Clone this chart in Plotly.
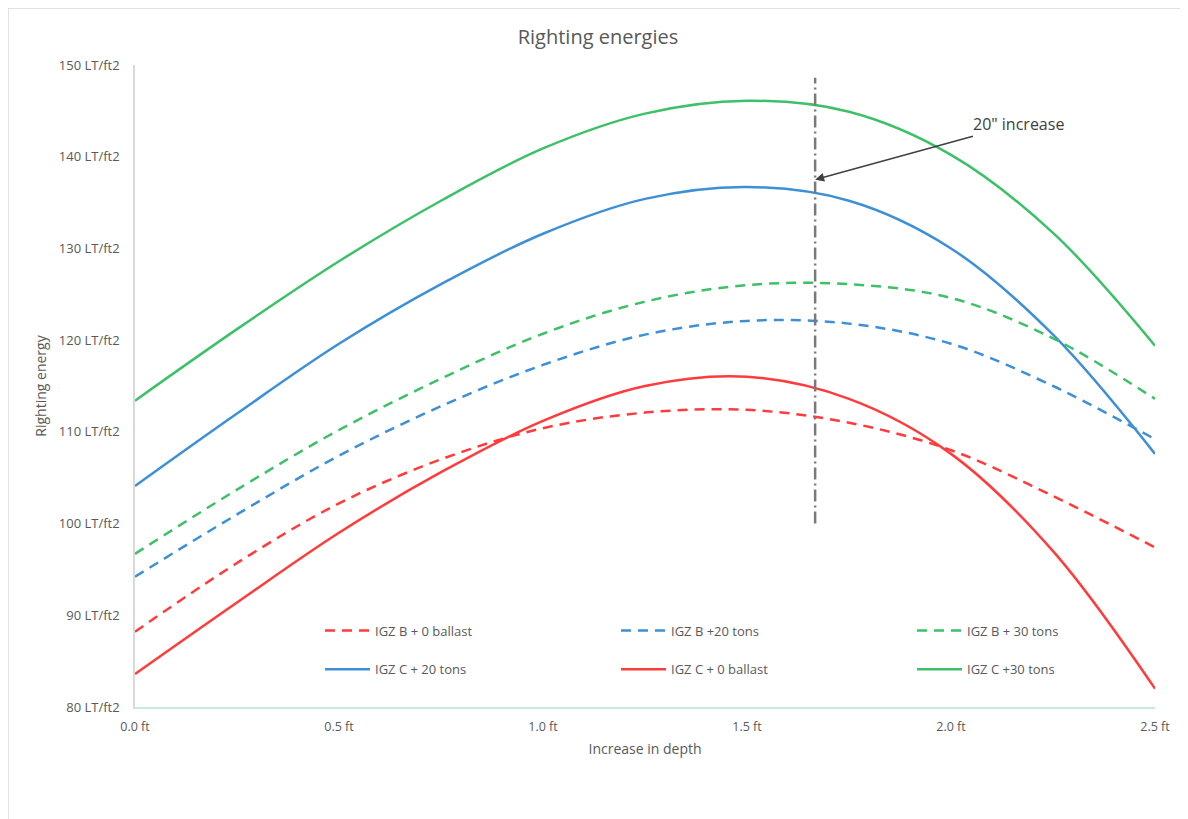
import plotly.graph_objects as go

depth_ft = [0.0, 0.25, 0.5, 0.75, 1.0, 1.25, 1.5, 1.75, 2.0, 2.25, 2.5]

igz_b_0 = [88.2, 95.7, 102.2, 107.0, 110.4, 112.1, 112.4, 111.0, 108.0, 103.0, 97.4]
igz_b_20 = [94.2, 101.0, 107.4, 112.8, 117.3, 120.6, 122.1, 121.8, 119.6, 115.0, 109.2]
igz_b_30 = [96.7, 103.7, 110.2, 115.8, 120.7, 124.2, 126.0, 126.1, 124.6, 120.2, 113.6]
igz_c_20 = [104.1, 112.0, 119.6, 126.1, 131.6, 135.4, 136.7, 135.2, 130.0, 120.6, 107.6]
igz_c_0 = [83.6, 91.4, 99.0, 105.6, 111.2, 115.0, 116.0, 113.6, 107.6, 97.0, 82.0]
igz_c_30 = [113.4, 121.2, 128.6, 135.2, 140.9, 144.7, 146.1, 144.9, 140.2, 131.7, 119.4]

marker_x = [1.667, 1.667]
marker_y = [100.0, 148.6]

x_ticks = [0.0, 0.5, 1.0, 1.5, 2.0, 2.5]
x_ticktext = ["0.0 ft", "0.5 ft", "1.0 ft", "1.5 ft", "2.0 ft", "2.5 ft"]
y_ticks = [80, 90, 100, 110, 120, 130, 140, 150]
y_ticktext = [f"{v} LT/ft2" for v in y_ticks]

RED = "#ff3b3b"
BLUE = "#3d8fd6"
GREEN = "#3cc068"
TXT = "#595959"
FONT = "Open Sans"
DASH = "10px,7px"

# page offset (browser body margin)
OFF = 8
W, H = 1188 - OFF, 819 - OFF
L, T = 135 - OFF, 65 - OFF
R = W - (1155 - OFF)
B = H - (707 - OFF)
pw = W - L - R
ph = H - T - B


def px_x(p):
    return (p - OFF - L) / pw


def px_y(p):
    return (H - B - (p - OFF)) / ph


fig = go.Figure()

series = [
    ("IGZ B + 0 ballast", igz_b_0, RED, DASH, "legend"),
    ("IGZ C + 20 tons", igz_c_20, BLUE, "solid", "legend"),
    ("IGZ B +20 tons", igz_b_20, BLUE, DASH, "legend2"),
    ("IGZ C + 0 ballast", igz_c_0, RED, "solid", "legend2"),
    ("IGZ B + 30 tons", igz_b_30, GREEN, DASH, "legend3"),
    ("IGZ C +30 tons", igz_c_30, GREEN, "solid", "legend3"),
]
for name, ys, col, dash, lg in series:
    fig.add_trace(go.Scatter(
        x=depth_ft, y=ys, name=name, mode="lines",
        line=dict(color=col, width=2.5, dash=dash, shape="spline", smoothing=1.0),
        legend=lg, legendgroup=name,
    ))

fig.add_trace(go.Scatter(
    x=marker_x, y=marker_y, mode="lines", showlegend=False,
    line=dict(color="#7a7a7a", width=2.5, dash="12px,4px,2px,4px"),
))

legend_common = dict(
    orientation="v", tracegroupgap=19,
    font=dict(family=FONT, size=13, color=TXT),
    bgcolor="rgba(0,0,0,0)", borderwidth=0,
    xanchor="left", yanchor="middle", itemwidth=45,
)
LEG_Y = px_y(650)

fig.update_layout(
    width=W, height=H,
    margin=dict(l=L, r=R, t=T, b=B),
    paper_bgcolor="white", plot_bgcolor="white",
    font=dict(family=FONT, color=TXT),
    title=dict(text="Righting energies", x=(598 - OFF) / W, xanchor="center",
               y=1 - (37 - OFF) / H, yanchor="middle",
               font=dict(family=FONT, size=20, color=TXT)),
    legend=dict(x=px_x(320), y=LEG_Y, **legend_common),
    legend2=dict(x=px_x(616), y=LEG_Y, **legend_common),
    legend3=dict(x=px_x(912), y=LEG_Y, **legend_common),
    xaxis=dict(
        range=[0, 2.5], tickvals=x_ticks, ticktext=x_ticktext,
        showgrid=False, zeroline=False, showline=True,
        linecolor="#c3ecd3", linewidth=2, ticks="",
        tickfont=dict(family=FONT, size=12.5, color=TXT),
        ticklabelstandoff=7,
        title=dict(text="Increase in depth", standoff=10,
                   font=dict(family=FONT, size=14, color=TXT)),
    ),
    yaxis=dict(
        range=[80, 150], tickvals=y_ticks, ticktext=y_ticktext,
        showgrid=False, zeroline=False, showline=True,
        linecolor="#d9d9d9", linewidth=1.5, ticks="",
        tickfont=dict(family=FONT, size=13, color=TXT),
        ticklabelstandoff=11,
        title=dict(text="Righting energy", standoff=9,
                   font=dict(family=FONT, size=14, color=TXT)),
    ),
    annotations=[
        dict(x=1.667, y=137.5, xref="x", yref="y",
             ax=2.165, ay=143.6, axref="x", ayref="y",
             text="20\" increase", showarrow=True,
             arrowhead=2, arrowsize=1.2, arrowwidth=1.5, arrowcolor="#404040",
             font=dict(family=FONT, size=16, color="#404040")),
    ],
    shapes=[
        dict(type="line", xref="paper", yref="paper",
             x0=px_x(8), x1=px_x(8), y0=px_y(830), y1=px_y(8),
             line=dict(color="#d9d9d9", width=1.5)),
        dict(type="line", xref="paper", yref="paper",
             x0=px_x(8), x1=px_x(1182), y0=px_y(8), y1=px_y(8),
             line=dict(color="#d9d9d9", width=1.5)),
        dict(type="line", xref="paper", yref="paper",
             x0=px_x(1182), x1=px_x(1182), y0=px_y(830), y1=px_y(8),
             line=dict(color="#d9d9d9", width=1.5)),
    ],
)

fig.write_html("out.html")
